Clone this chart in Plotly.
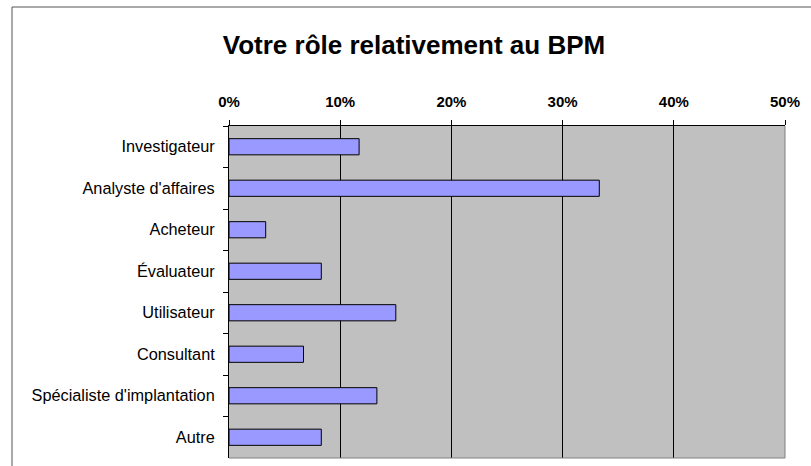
import plotly.graph_objects as go

categories = ["Investigateur", "Analyste d'affaires", "Acheteur", "Évaluateur",
              "Utilisateur", "Consultant", "Spécialiste d'implantation", "Autre"]
values = [0.117, 0.333, 0.033, 0.083, 0.150, 0.067, 0.133, 0.083]
tick_vals = [0, 0.1, 0.2, 0.3, 0.4, 0.5]
tick_text = ["0%", "10%", "20%", "30%", "40%", "50%"]

W, H = 811, 466
L, R, T, B = 229, 785, 126, 458

fig = go.Figure(go.Bar(
    y=categories, x=values, orientation="h",
    marker=dict(color="#9999FF", line=dict(color="#000000", width=1)),
    width=0.39,
))

pw, ph = R - L, B - T
def px(x):
    return (x - L) / pw
def py(y):
    return (B - y) / ph

fig.update_layout(
    width=W, height=H,
    margin=dict(l=L, r=W - R, t=T, b=H - B, autoexpand=False),
    paper_bgcolor="white", plot_bgcolor="#C0C0C0",
    showlegend=False,
    font=dict(family="Liberation Sans, Arial, sans-serif", color="black"),
    title=dict(text="<b>Votre rôle relativement au BPM</b>", x=414 / W, xref="container", xanchor="center",
               y=1 - 45 / H, yref="container", yanchor="middle",
               font=dict(size=26, family="Liberation Sans, Arial, sans-serif", color="black")),
    xaxis=dict(side="top", range=[0, 0.5], tickvals=tick_vals, ticktext=tick_text,
               showgrid=True, gridcolor="#000000", gridwidth=1, zeroline=False,
               showline=True, linecolor="#000000", linewidth=1,
               ticks="outside", ticklen=5, tickcolor="#000000",
               ticklabelstandoff=7,
               tickfont=dict(size=15, weight="bold", color="black")),
    yaxis=dict(autorange="reversed", type="category", tickson="boundaries",
               showline=True, linecolor="#000000", linewidth=1,
               ticks="outside", ticklen=5, tickcolor="#000000",
               showgrid=False, zeroline=False, ticklabelstandoff=10,
               tickfont=dict(size=16.3, color="black")),
    shapes=[
        dict(type="line", xref="paper", yref="paper", x0=1, x1=1, y0=0, y1=1,
             line=dict(color="#808080", width=1), layer="above"),
        dict(type="line", xref="paper", yref="paper", x0=0, x1=1, y0=0, y1=0,
             line=dict(color="#808080", width=1), layer="above"),
        dict(type="rect", xref="paper", yref="paper", x0=px(12), x1=px(830), y0=py(485), y1=py(7),
             line=dict(color="#555555", width=1), fillcolor="rgba(0,0,0,0)", layer="above"),
    ],
)

fig.write_html("out.html", config={"displayModeBar": False},
               post_script="document.body.style.margin='0';document.body.style.padding='0';")
